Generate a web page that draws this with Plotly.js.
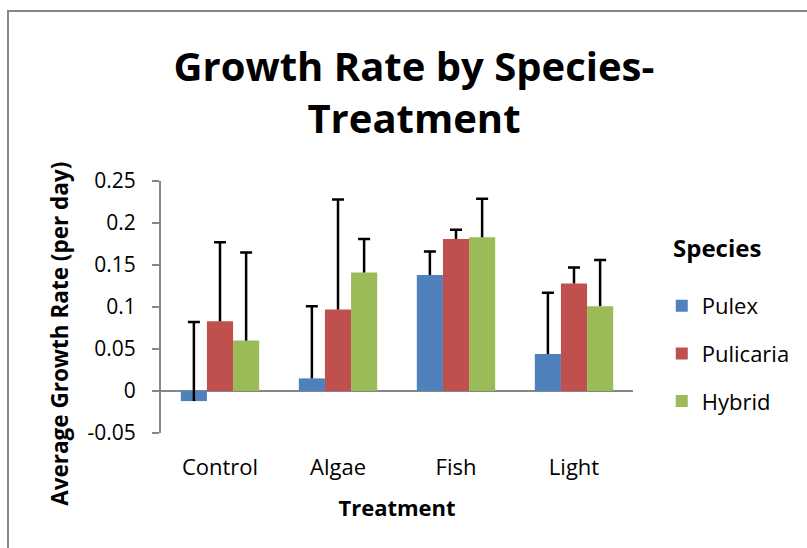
<!DOCTYPE html>
<html>
<head>
<meta charset="utf-8">
<script src="https://cdn.plot.ly/plotly-3.0.1.min.js"></script>
<style>
html,body{margin:0;padding:0;background:#fff;overflow:hidden;}
#frame{position:absolute;left:7px;top:10px;width:900px;height:700px;border:2px solid #868686;box-sizing:border-box;}
#chart{position:absolute;left:0;top:0;width:807px;height:548px;}
</style>
</head>
<body>
<div id="frame"></div>
<div id="chart"></div>
<script>
const categories = ['Control', 'Algae', 'Fish', 'Light'];
const seriesNames = ['Pulex', 'Pulicaria', 'Hybrid'];
const pulex = [-0.012, 0.015, 0.138, 0.044];
const pulexErr = [0.094, 0.086, 0.028, 0.073];
const pulicaria = [0.083, 0.097, 0.181, 0.128];
const pulicariaErr = [0.094, 0.131, 0.011, 0.019];
const hybrid = [0.060, 0.141, 0.183, 0.101];
const hybridErr = [0.105, 0.040, 0.046, 0.055];
const yTickVals = [-0.05, 0, 0.05, 0.1, 0.15, 0.2, 0.25];
const yTickText = ['-0.05', '0', '0.05', '0.1', '0.15', '0.2', '0.25'];

const colors = ['#4F81BD', '#C0504D', '#9BBB59'];
const values = [pulex, pulicaria, hybrid];
const errs = [pulexErr, pulicariaErr, hybridErr];

const traces = [];
values.forEach((vals, i) => {
  traces.push({
    type: 'bar', x: categories, y: vals, name: seriesNames[i],
    offsetgroup: 'g' + i, legendgroup: 'g' + i,
    marker: {color: colors[i]},
    error_y: {type: 'data', symmetric: false, array: errs[i], arrayminus: vals.map(() => 0),
              color: '#000', thickness: 2.5, width: 0},
    hoverinfo: 'skip'
  });
});
values.forEach((vals, i) => {
  traces.push({
    type: 'bar', x: categories, y: vals.map((v, k) => v + errs[i][k]),
    offsetgroup: 'g' + i, showlegend: false,
    marker: {color: 'rgba(0,0,0,0)'},
    error_y: {type: 'data', array: vals.map(() => 0), color: '#000', thickness: 2.5, width: 6},
    hoverinfo: 'skip'
  });
});

const layout = {
  width: 807, height: 548,
  margin: {l: 161, r: 170, t: 181, b: 115},
  paper_bgcolor: 'rgba(0,0,0,0)', plot_bgcolor: 'rgba(0,0,0,0)',
  barmode: 'group', bargap: 0.336, bargroupgap: 0,
  font: {family: 'Open Sans', color: '#000'},
  title: {
    text: 'Growth Rate by Species-<br>Treatment',
    font: {family: 'Open Sans', size: 40, weight: 'bold', color: '#000'},
    x: 0.513, xanchor: 'center', xref: 'container',
    y: 1 - 81 / 548, yanchor: 'middle', yref: 'container'
  },
  xaxis: {
    type: 'category', showgrid: false, showline: false, zeroline: false, ticks: '',
    tickfont: {family: 'Open Sans', size: 22, color: '#000'},
    ticklabelstandoff: 19,
    title: {text: 'Treatment', font: {family: 'Open Sans', size: 22, weight: 'bold', color: '#000'}, standoff: 20}
  },
  yaxis: {
    range: [-0.05, 0.25], tickmode: 'array', tickvals: yTickVals, ticktext: yTickText,
    showgrid: false, showline: true, linecolor: '#868686', linewidth: 2,
    ticks: 'outside', ticklen: 7, tickwidth: 1.5, tickcolor: '#868686',
    zeroline: true, zerolinecolor: '#868686', zerolinewidth: 2.5,
    tickfont: {family: 'Open Sans', size: 21, color: '#000'},
    ticklabelstandoff: 12
  },
  annotations: [
    {text: 'Average Growth Rate (per day)', textangle: -90, showarrow: false,
     xref: 'paper', yref: 'paper', x: (58 - 161) / 476, y: (433 - 334) / 252,
     xanchor: 'center', yanchor: 'middle',
     font: {family: 'Open Sans', size: 22.5, weight: 'bold', color: '#000'}},
    {text: 'Species', showarrow: false,
     xref: 'paper', yref: 'paper', x: (675 - 161) / 476, y: (433 - 247) / 252,
     xanchor: 'left', yanchor: 'middle',
     font: {family: 'Open Sans', size: 24, weight: 'bold', color: '#000'}}
  ],
  legend: {
    x: (666 - 161) / 476, xanchor: 'left', y: (433 - 285) / 252, yanchor: 'top',
    font: {family: 'Open Sans', size: 22, color: '#000'},
    traceorder: 'grouped', tracegroupgap: 16,
    bgcolor: 'rgba(0,0,0,0)'
  },
  showlegend: true
};

Plotly.newPlot('chart', traces, layout, {displayModeBar: false, staticPlot: true});
</script>
</body>
</html>
